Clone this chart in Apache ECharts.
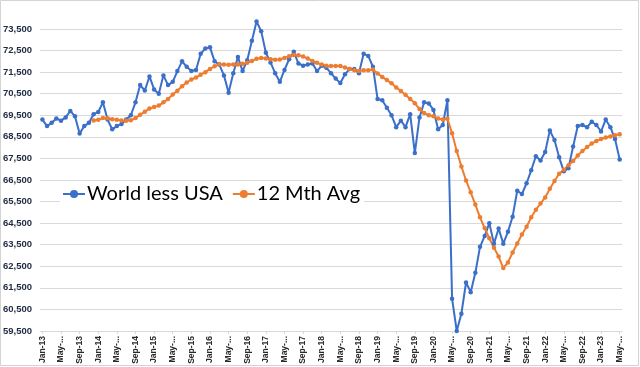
<!DOCTYPE html>
<html>
<head>
<meta charset="utf-8">
<script src="https://cdn.jsdelivr.net/npm/echarts@6/dist/echarts.min.js"></script>
<style>html,body{margin:0;padding:0;background:#fff}#c{width:640px;height:367px}</style>
</head>
<body>
<div id="c"></div>
<script>
const categories = [
"Jan-13","Feb-13","Mar-13","Apr-13","May-13","Jun-13","Jul-13","Aug-13","Sep-13","Oct-13","Nov-13","Dec-13",
"Jan-14","Feb-14","Mar-14","Apr-14","May-14","Jun-14","Jul-14","Aug-14","Sep-14","Oct-14","Nov-14","Dec-14",
"Jan-15","Feb-15","Mar-15","Apr-15","May-15","Jun-15","Jul-15","Aug-15","Sep-15","Oct-15","Nov-15","Dec-15",
"Jan-16","Feb-16","Mar-16","Apr-16","May-16","Jun-16","Jul-16","Aug-16","Sep-16","Oct-16","Nov-16","Dec-16",
"Jan-17","Feb-17","Mar-17","Apr-17","May-17","Jun-17","Jul-17","Aug-17","Sep-17","Oct-17","Nov-17","Dec-17",
"Jan-18","Feb-18","Mar-18","Apr-18","May-18","Jun-18","Jul-18","Aug-18","Sep-18","Oct-18","Nov-18","Dec-18",
"Jan-19","Feb-19","Mar-19","Apr-19","May-19","Jun-19","Jul-19","Aug-19","Sep-19","Oct-19","Nov-19","Dec-19",
"Jan-20","Feb-20","Mar-20","Apr-20","May-20","Jun-20","Jul-20","Aug-20","Sep-20","Oct-20","Nov-20","Dec-20",
"Jan-21","Feb-21","Mar-21","Apr-21","May-21","Jun-21","Jul-21","Aug-21","Sep-21","Oct-21","Nov-21","Dec-21",
"Jan-22","Feb-22","Mar-22","Apr-22","May-22","Jun-22","Jul-22","Aug-22","Sep-22","Oct-22","Nov-22","Dec-22",
"Jan-23","Feb-23","Mar-23","Apr-23","May-23"
];
const worldLessUSA = [
69300,69000,69150,69350,69250,69400,69700,69450,68650,69000,69150,69550,
69650,70100,69300,68850,69000,69100,69300,69500,70100,70900,70650,71300,
70700,70500,71350,70900,71050,71550,72000,71750,71550,71600,72350,72600,
72650,72000,71850,71350,70550,71450,72200,71550,72050,72950,73850,73400,
72400,71950,71450,71050,71600,72100,72450,71900,71800,71850,71900,71550,
71800,71700,71450,71200,71000,71400,71650,71650,71450,72350,72250,71750,
70250,70200,69850,69500,68950,69250,68950,69550,67750,69400,70100,70050,
69750,68850,69050,70200,61000,59500,60300,61750,61300,62200,63400,63900,
64500,63550,64250,63550,64100,64800,66000,65850,66350,66950,67600,67400,
67800,68800,68350,67550,66900,67050,68050,69000,69050,68950,69200,69050,
68750,69300,68950,68400,67450
];
const avg12Mth = [
null,null,null,null,null,null,null,null,null,null,null,69260,
69290,69370,69360,69320,69290,69260,69250,69270,69370,69530,69660,69820,
69880,69950,70100,70250,70460,70640,70850,71020,71160,71250,71380,71500,
71650,71770,71870,71860,71840,71860,71860,71890,71930,72020,72120,72160,
72130,72100,72070,72090,72160,72240,72300,72280,72230,72130,72020,71930,
71850,71800,71790,71790,71780,71720,71640,71590,71550,71590,71590,71620,
71440,71280,71130,70980,70790,70630,70450,70260,70060,69790,69610,69500,
69460,69350,69300,69340,68670,67840,67130,66480,65930,65360,64770,64270,
63800,63360,62950,62420,62680,63140,63560,63970,64330,64770,65120,65410,
65690,66090,66450,66790,66970,67180,67380,67640,67840,68030,68190,68310,
68400,68470,68520,68570,68620
];
const yMin = 59500, yMax = 73500;

const chart = echarts.init(document.getElementById('c'), null, {renderer:'canvas'});
chart.setOption({
  animation:false,
  backgroundColor:'#ffffff',
  graphic:[{type:'rect', shape:{x:0.5,y:0.5,width:638,height:365}, style:{fill:'none', stroke:'#d4d4d4', lineWidth:1}, z:-1}],
  grid:{left:40, right:18, top:29, bottom:36},
  legend:{
    left:60, top:182, itemGap:9, itemWidth:22, itemHeight:10,
    backgroundColor:'#ffffff', padding:[2,4,2,2],
    textStyle:{fontSize:20, fontFamily:'Lato', color:'#000', padding:[0,0,0,-3]},
    data:['World less USA','12 Mth Avg']
  },
  xAxis:{
    type:'category', data:categories, boundaryGap:true,
    axisLine:{lineStyle:{color:'#d9d9d9'}},
    axisTick:{show:true, interval:3, alignWithLabel:true, length:3, lineStyle:{color:'#d9d9d9'}},
    axisLabel:{interval:3, rotate:90, fontSize:8.5, fontWeight:'bold', fontFamily:'Liberation Sans', color:'#2a2a2a', margin:5,
      formatter:v => v.indexOf('May')===0 ? 'May-...' : v}
  },
  yAxis:{
    type:'value', min:yMin, max:yMax, interval:500,
    axisLine:{show:false}, axisTick:{show:false},
    splitLine:{lineStyle:{color:['#d9d9d9','rgba(0,0,0,0)'], width:1}},
    axisLabel:{fontSize:9.5, fontWeight:'bold', fontFamily:'Liberation Sans', color:'#1f2a40', margin:8,
      formatter:v => ((v - yMin) % 1000 === 0 ? v.toLocaleString('en-US') : '')}
  },
  series:[
    {name:'World less USA', type:'line', data:worldLessUSA, symbol:'circle', symbolSize:4.5,
     showSymbol:true, showAllSymbol:true, clip:false,
     lineStyle:{width:2, color:'#3b6fc9'}, itemStyle:{color:'#3b6fc9'}},
    {name:'12 Mth Avg', type:'line', data:avg12Mth, symbol:'circle', symbolSize:4.5,
     showSymbol:true, showAllSymbol:true, clip:false,
     lineStyle:{width:2, color:'#ed7d31'}, itemStyle:{color:'#ed7d31'}}
  ]
});
</script>
</body>
</html>
